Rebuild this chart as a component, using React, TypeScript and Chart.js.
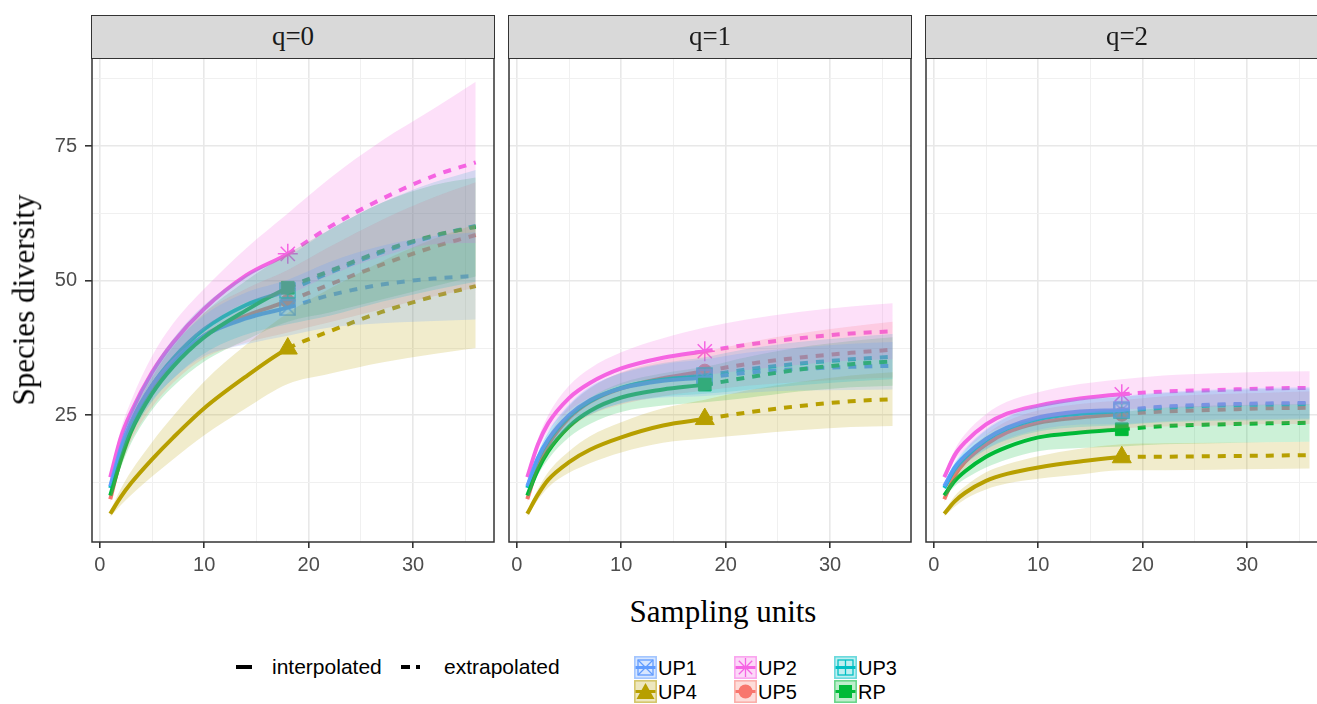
import React, { useEffect, useRef } from 'react';
import { Chart, registerables } from 'chart.js';

Chart.register(...registerables);

// ---------------- data ----------------
// sampling units at which the curves are read (m = 18 is the observed reference sample)
const M = [1, 2, 3, 5, 7, 10, 14, 18, 22, 27, 32, 36];
const OBS_INDEX = 7;

const X_TICKS = [0, 5, 10, 15, 20, 25, 30, 35];
const X_LABELS = [0, 10, 20, 30];
const Y_TICKS = [12.5, 25, 37.5, 50, 62.5, 75, 87.5];
const Y_LABELS = [25, 50, 75];
const X_MIN = -0.75;
const X_MAX = 37.75;
const Y_MIN = 1.45;
const Y_MAX = 91.4;

const PANELS = ['q=0', 'q=1', 'q=2'];
const SERIES = ['UP1', 'UP2', 'UP3', 'UP4', 'UP5', 'RP'];
const COLORS = ['#619CFF', '#F564E3', '#00BFC4', '#B79F00', '#F8766D', '#00BA38'];
const SHAPES = ['boxx', 'star', 'boxplus', 'triangle', 'circle', 'rect'];

// q = 0
const Q0_UP1 = [11.8, 18.8, 23.8, 30.5, 35.0, 39.8, 43.0, 45.0, 47.3, 49.3, 50.4, 50.9];
const Q0_UP1_LO = [11.1, 17.3, 21.8, 27.8, 31.8, 36.0, 38.2, 39.8, 41.3, 42.1, 42.5, 42.8];
const Q0_UP1_HI = [12.5, 20.3, 25.8, 33.2, 38.2, 43.6, 47.8, 50.2, 53.5, 56.5, 58.3, 59.0];
const Q0_UP2 = [13.5, 20.8, 25.6, 33.0, 38.5, 44.8, 51.0, 55.0, 60.0, 65.2, 69.5, 72.0];
const Q0_UP2_LO = [12.8, 19.3, 23.5, 30.0, 35.0, 41.1, 46.0, 47.5, 51.0, 54.5, 56.8, 57.0];
const Q0_UP2_HI = [14.2, 22.3, 27.7, 36.0, 42.0, 48.5, 56.0, 62.5, 69.0, 76.0, 82.0, 87.0];
const Q0_UP3 = [11.5, 18.5, 23.5, 30.5, 35.5, 41.0, 45.5, 48.2, 51.5, 55.3, 58.3, 60.2];
const Q0_UP3_LO = [10.8, 17.0, 21.3, 27.5, 31.8, 36.5, 40.0, 41.9, 43.5, 46.1, 48.3, 49.8];
const Q0_UP3_HI = [12.2, 20.0, 25.7, 33.5, 39.2, 45.5, 51.0, 54.5, 59.5, 64.5, 68.3, 70.6];
const Q0_UP4 = [6.7, 9.8, 12.4, 16.8, 20.8, 26.3, 32.2, 37.4, 40.6, 44.2, 47.1, 49.0];
const Q0_UP4_LO = [6.1, 8.3, 10.2, 13.6, 16.8, 21.3, 26.3, 30.8, 32.7, 34.8, 36.4, 37.5];
const Q0_UP4_HI = [7.3, 11.3, 14.6, 20.0, 24.8, 31.3, 38.1, 44.0, 48.5, 53.6, 57.8, 60.5];
const Q0_UP5 = [9.4, 17.0, 22.5, 29.5, 34.5, 39.8, 43.5, 46.2, 49.3, 53.0, 56.3, 58.5];
const Q0_UP5_LO = [8.7, 15.5, 20.3, 26.5, 31.0, 35.6, 38.5, 40.4, 42.3, 44.7, 47.1, 48.7];
const Q0_UP5_HI = [10.1, 18.5, 24.7, 32.5, 38.0, 44.0, 48.5, 52.0, 56.3, 61.3, 65.5, 68.3];
const Q0_RP = [10.1, 16.6, 22.0, 29.0, 34.0, 39.5, 44.5, 48.7, 51.8, 55.5, 58.4, 60.0];
const Q0_RP_LO = [9.4, 15.2, 19.8, 26.0, 30.3, 35.0, 39.0, 42.4, 44.1, 46.5, 49.0, 50.8];
const Q0_RP_HI = [10.8, 18.0, 24.2, 32.0, 37.7, 44.0, 50.0, 55.0, 59.5, 64.5, 67.8, 69.2];

// q = 1
const Q1_UP1 = [11.8, 17.0, 20.5, 25.0, 27.8, 30.0, 31.4, 32.0, 32.9, 33.6, 34.0, 34.2];
const Q1_UP1_LO = [11.3, 16.0, 19.0, 23.0, 25.3, 27.2, 28.3, 28.6, 29.2, 29.6, 29.7, 29.8];
const Q1_UP1_HI = [12.3, 18.0, 22.0, 27.0, 30.3, 32.8, 34.5, 35.4, 36.6, 37.6, 38.3, 38.6];
const Q1_UP2 = [13.5, 19.5, 23.5, 28.2, 31.0, 33.7, 35.7, 36.9, 38.1, 39.3, 40.2, 40.6];
const Q1_UP2_LO = [13.0, 18.5, 22.0, 25.9, 28.3, 30.7, 32.1, 32.5, 33.4, 34.4, 35.2, 35.4];
const Q1_UP2_HI = [14.0, 20.5, 25.0, 30.5, 33.7, 36.7, 39.3, 41.3, 42.8, 44.2, 45.2, 45.8];
const Q1_UP3 = [11.5, 16.8, 20.3, 24.8, 27.6, 30.1, 31.6, 32.4, 33.5, 34.6, 35.4, 35.9];
const Q1_UP3_LO = [11.0, 15.8, 18.8, 22.8, 25.1, 27.3, 28.5, 29.0, 29.7, 30.6, 31.3, 31.7];
const Q1_UP3_HI = [12.0, 17.8, 21.8, 26.8, 30.1, 32.9, 34.7, 35.8, 37.3, 38.6, 39.5, 40.1];
const Q1_UP4 = [6.7, 10.2, 13.0, 16.3, 18.6, 20.9, 23.1, 24.3, 25.5, 26.7, 27.6, 28.0];
const Q1_UP4_LO = [6.2, 9.2, 11.6, 14.3, 16.1, 18.1, 19.9, 20.7, 21.4, 22.2, 22.8, 23.0];
const Q1_UP4_HI = [7.2, 11.2, 14.4, 18.3, 21.1, 23.7, 26.3, 27.9, 29.6, 31.2, 32.4, 33.0];
const Q1_UP5 = [9.4, 15.5, 19.5, 24.5, 27.5, 30.0, 31.9, 33.2, 34.5, 35.7, 36.6, 37.2];
const Q1_UP5_LO = [8.9, 14.5, 18.0, 22.4, 25.0, 27.0, 28.6, 29.6, 30.5, 31.2, 31.7, 32.0];
const Q1_UP5_HI = [9.9, 16.5, 21.0, 26.6, 30.0, 33.0, 35.2, 36.8, 38.5, 40.2, 41.5, 42.4];
const Q1_RP = [10.1, 14.8, 18.3, 22.9, 25.8, 28.3, 29.8, 30.7, 32.0, 33.5, 34.5, 35.0];
const Q1_RP_LO = [9.6, 13.8, 16.8, 20.9, 23.4, 25.6, 26.8, 27.4, 28.2, 29.4, 30.2, 30.5];
const Q1_RP_HI = [10.6, 15.8, 19.8, 24.9, 28.2, 31.0, 32.8, 34.0, 35.8, 37.6, 38.8, 39.5];

// q = 2
const Q2_UP1 = [11.8, 15.3, 17.5, 20.6, 22.7, 24.6, 25.7, 26.0, 26.6, 27.0, 27.2, 27.3];
const Q2_UP1_LO = [11.3, 14.3, 16.2, 18.8, 20.6, 22.3, 23.3, 23.4, 23.9, 24.2, 24.3, 24.4];
const Q2_UP1_HI = [12.3, 16.3, 18.8, 22.4, 24.8, 26.9, 28.1, 28.6, 29.3, 29.8, 30.1, 30.2];
const Q2_UP2 = [13.5, 17.6, 20.0, 23.3, 25.3, 26.8, 28.1, 28.9, 29.4, 29.7, 30.0, 30.1];
const Q2_UP2_LO = [13.0, 16.6, 18.5, 21.4, 23.1, 24.3, 25.4, 26.1, 26.4, 26.6, 26.9, 27.0];
const Q2_UP2_HI = [14.0, 18.6, 21.5, 25.2, 27.5, 29.3, 30.8, 31.7, 32.4, 32.8, 33.1, 33.2];
const Q2_UP3 = [11.5, 15.0, 17.2, 20.4, 22.5, 24.3, 25.3, 25.8, 26.4, 26.8, 27.0, 27.1];
const Q2_UP3_LO = [11.0, 14.0, 15.9, 18.6, 20.4, 22.0, 22.8, 23.2, 23.7, 24.0, 24.1, 24.2];
const Q2_UP3_HI = [12.0, 16.0, 18.5, 22.2, 24.6, 26.6, 27.8, 28.4, 29.1, 29.6, 29.9, 30.0];
const Q2_UP4 = [6.7, 9.0, 10.6, 12.8, 14.1, 15.3, 16.4, 17.2, 17.3, 17.4, 17.5, 17.6];
const Q2_UP4_LO = [6.2, 8.0, 9.4, 11.2, 12.3, 13.2, 14.0, 14.8, 14.8, 14.9, 15.0, 15.1];
const Q2_UP4_HI = [7.2, 10.0, 11.8, 14.4, 15.9, 17.4, 18.8, 19.6, 19.8, 19.9, 20.0, 20.1];
const Q2_UP5 = [9.4, 13.8, 16.4, 19.6, 21.8, 23.6, 24.6, 25.2, 25.7, 26.0, 26.3, 26.4];
const Q2_UP5_LO = [8.9, 12.8, 15.1, 17.8, 19.7, 21.3, 22.1, 22.6, 22.9, 23.1, 23.4, 23.4];
const Q2_UP5_HI = [9.9, 14.8, 17.7, 21.4, 23.9, 25.9, 27.1, 27.8, 28.5, 28.9, 29.2, 29.4];
const Q2_RP = [10.1, 12.8, 14.6, 17.3, 19.1, 20.9, 21.8, 22.4, 23.0, 23.3, 23.5, 23.6];
const Q2_RP_LO = [9.6, 11.8, 13.2, 15.3, 16.8, 18.3, 18.9, 19.2, 19.6, 19.8, 20.0, 20.1];
const Q2_RP_HI = [10.6, 13.8, 16.0, 19.3, 21.4, 23.5, 24.7, 25.6, 26.4, 26.8, 27.0, 27.1];

type Band = { est: number[]; lo: number[]; hi: number[] };
const PANEL_SERIES: Band[][] = [
  [
    { est: Q0_UP1, lo: Q0_UP1_LO, hi: Q0_UP1_HI },
    { est: Q0_UP2, lo: Q0_UP2_LO, hi: Q0_UP2_HI },
    { est: Q0_UP3, lo: Q0_UP3_LO, hi: Q0_UP3_HI },
    { est: Q0_UP4, lo: Q0_UP4_LO, hi: Q0_UP4_HI },
    { est: Q0_UP5, lo: Q0_UP5_LO, hi: Q0_UP5_HI },
    { est: Q0_RP, lo: Q0_RP_LO, hi: Q0_RP_HI },
  ],
  [
    { est: Q1_UP1, lo: Q1_UP1_LO, hi: Q1_UP1_HI },
    { est: Q1_UP2, lo: Q1_UP2_LO, hi: Q1_UP2_HI },
    { est: Q1_UP3, lo: Q1_UP3_LO, hi: Q1_UP3_HI },
    { est: Q1_UP4, lo: Q1_UP4_LO, hi: Q1_UP4_HI },
    { est: Q1_UP5, lo: Q1_UP5_LO, hi: Q1_UP5_HI },
    { est: Q1_RP, lo: Q1_RP_LO, hi: Q1_RP_HI },
  ],
  [
    { est: Q2_UP1, lo: Q2_UP1_LO, hi: Q2_UP1_HI },
    { est: Q2_UP2, lo: Q2_UP2_LO, hi: Q2_UP2_HI },
    { est: Q2_UP3, lo: Q2_UP3_LO, hi: Q2_UP3_HI },
    { est: Q2_UP4, lo: Q2_UP4_LO, hi: Q2_UP4_HI },
    { est: Q2_UP5, lo: Q2_UP5_LO, hi: Q2_UP5_HI },
    { est: Q2_RP, lo: Q2_RP_LO, hi: Q2_RP_HI },
  ],
];

// ---------------- layout ----------------
const PAGE_W = 1317;
const PAGE_H = 704;
const PANEL_LEFT = [92, 509, 926];
const PANEL_WIDTH = 402;
const PLOT_TOP = 58;
const PLOT_BOTTOM = 542;
const CANVAS_TOP = 28;
const X_AXIS_H = 40;
const FONT_SANS = '"Liberation Sans", Arial, Helvetica, sans-serif';
const FONT_SERIF = '"Liberation Serif", "Times New Roman", Times, serif';
const GRID_MAJOR = '#E8E8E8';
const GRID_MINOR = '#F0F0F0';
const FRAME = '#333333';

function rgba(hex: string, a: number) {
  const n = parseInt(hex.slice(1), 16);
  return `rgba(${(n >> 16) & 255},${(n >> 8) & 255},${n & 255},${a})`;
}

function boxMarker(color: string, kind: 'x' | 'plus', size = 17) {
  const c = document.createElement('canvas');
  c.width = size;
  c.height = size;
  const g = c.getContext('2d')!;
  g.strokeStyle = color;
  g.lineWidth = 1.4;
  const p = 1;
  const s = size - 2;
  g.strokeRect(p, p, s, s);
  g.beginPath();
  if (kind === 'x') {
    g.moveTo(p, p);
    g.lineTo(p + s, p + s);
    g.moveTo(p + s, p);
    g.lineTo(p, p + s);
  } else {
    g.moveTo(size / 2, p);
    g.lineTo(size / 2, p + s);
    g.moveTo(p, size / 2);
    g.lineTo(p + s, size / 2);
  }
  g.stroke();
  return c;
}

const framePlugin = {
  id: 'panelFrame',
  afterDatasetsDraw(chart: any) {
    const { ctx, chartArea: a } = chart;
    ctx.save();
    ctx.strokeStyle = FRAME;
    ctx.lineWidth = 1.5;
    ctx.strokeRect(a.left, a.top, a.right - a.left, a.bottom - a.top);
    ctx.restore();
  },
};

function Panel({ index }: { index: number }) {
  const ref = useRef<HTMLCanvasElement>(null);
  const first = index === 0;
  const padLeft = first ? 0 : 10;
  const canvasLeft = first ? 0 : PANEL_LEFT[index] - padLeft;
  const canvasW = PANEL_LEFT[index] + PANEL_WIDTH + 6 - canvasLeft;
  const canvasH = PLOT_BOTTOM + X_AXIS_H - CANVAS_TOP;

  useEffect(() => {
    if (!ref.current) return;
    const pts = (arr: number[]) => M.map((m, i) => ({ x: m, y: arr[i] }));
    const datasets: any[] = [];
    const series = PANEL_SERIES[index];
    // confidence bands (drawn on top, as ggplot ribbons)
    series.forEach((s, k) => {
      datasets.push({
        data: pts(s.hi),
        fill: '+1',
        backgroundColor: rgba(COLORS[k], 0.2),
        borderColor: 'rgba(0,0,0,0)',
        borderWidth: 0,
        pointRadius: 0,
        cubicInterpolationMode: 'monotone',
        order: 0,
      });
      datasets.push({
        data: pts(s.lo),
        fill: false,
        borderColor: 'rgba(0,0,0,0)',
        borderWidth: 0,
        pointRadius: 0,
        cubicInterpolationMode: 'monotone',
        order: 0,
      });
    });
    // curves and reference-sample markers
    const order = [5, 0, 1, 2, 3, 4];
    order.forEach((k) => {
      const s = series[k];
      const color = COLORS[k];
      datasets.push({
        data: pts(s.est),
        borderColor: color,
        borderWidth: 4,
        pointRadius: 0,
        fill: false,
        cubicInterpolationMode: 'monotone',
        segment: {
          borderDash: (ctx: any) => (ctx.p0DataIndex >= OBS_INDEX ? [8, 8] : undefined),
        },
        order: 1,
      });
      const shape = SHAPES[k];
      let pointStyle: any = shape;
      let radius = 8;
      let bw = 1;
      if (shape === 'boxx') pointStyle = boxMarker(color, 'x');
      if (shape === 'boxplus') pointStyle = boxMarker(color, 'plus');
      if (shape === 'star') { radius = 10; bw = 1.5; }
      if (shape === 'triangle') radius = 11;
      if (shape === 'circle') radius = 7;
      if (shape === 'rect') radius = 9;
      datasets.push({
        data: [{ x: M[OBS_INDEX], y: s.est[OBS_INDEX] }],
        showLine: false,
        pointStyle,
        pointRadius: radius,
        pointBackgroundColor: color,
        pointBorderColor: color,
        pointBorderWidth: bw,
        order: 1,
      });
    });

    const isMajorX = (v: number) => X_LABELS.includes(v);
    const isMajorY = (v: number) => Y_LABELS.includes(v);

    const chart = new Chart(ref.current, {
      type: 'line',
      data: { datasets },
      plugins: [framePlugin],
      options: {
        responsive: false,
        animation: false,
        events: [],
        layout: { autoPadding: false, padding: { top: PLOT_TOP - CANVAS_TOP, left: padLeft, right: 6, bottom: 0 } },
        plugins: {
          legend: { display: false },
          tooltip: { enabled: false },
          filler: { drawTime: 'beforeDatasetDraw', propagate: false },
        },
        scales: {
          x: {
            type: 'linear',
            min: X_MIN,
            max: X_MAX,
            afterBuildTicks: (sc: any) => {
              sc.ticks = X_TICKS.map((v) => ({ value: v }));
            },
            afterFit: (sc: any) => {
              sc.height = X_AXIS_H;
            },
            ticks: {
              autoSkip: false,
              maxRotation: 0,
              padding: 5,
              color: '#4D4D4D',
              font: { family: FONT_SANS, size: 20 },
              callback: (v: any) => (isMajorX(Number(v)) ? String(v) : ''),
            },
            grid: {
              color: (c: any) => (isMajorX(c.tick.value) ? GRID_MAJOR : GRID_MINOR),
              lineWidth: (c: any) => (isMajorX(c.tick.value) ? 1.6 : 1),
              tickColor: (c: any) => (isMajorX(c.tick.value) ? FRAME : 'rgba(0,0,0,0)'),
              tickLength: 6,
              drawTicks: true,
            },
            border: { display: false },
          },
          y: {
            type: 'linear',
            min: Y_MIN,
            max: Y_MAX,
            afterBuildTicks: (sc: any) => {
              sc.ticks = Y_TICKS.map((v) => ({ value: v }));
            },
            afterFit: (sc: any) => {
              sc.width = first ? PANEL_LEFT[0] : 0;
            },
            ticks: {
              display: first,
              autoSkip: false,
              padding: 8,
              color: '#4D4D4D',
              font: { family: FONT_SANS, size: 20 },
              callback: (v: any) => (isMajorY(Number(v)) ? String(v) : ''),
            },
            grid: {
              color: (c: any) => (isMajorY(c.tick.value) ? GRID_MAJOR : GRID_MINOR),
              lineWidth: (c: any) => (isMajorY(c.tick.value) ? 1.6 : 1),
              tickColor: (c: any) => (isMajorY(c.tick.value) ? FRAME : 'rgba(0,0,0,0)'),
              tickLength: 7,
              drawTicks: first,
            },
            border: { display: false },
          },
        },
      } as any,
    });
    return () => chart.destroy();
  }, [index]);

  return (
    <canvas
      ref={ref}
      width={canvasW}
      height={canvasH}
      style={{ position: 'absolute', left: canvasLeft, top: CANVAS_TOP, width: canvasW, height: canvasH }}
    />
  );
}

function KeyIcon({ k }: { k: number }) {
  const c = COLORS[k];
  const shape = SHAPES[k];
  let mark: any = null;
  if (shape === 'boxx')
    mark = (
      <g fill="none" stroke={c} strokeWidth={1.3}>
        <rect x={4} y={4} width={15} height={15} />
        <line x1={4} y1={4} x2={19} y2={19} />
        <line x1={19} y1={4} x2={4} y2={19} />
      </g>
    );
  if (shape === 'star')
    mark = (
      <g stroke={c} strokeWidth={1.3}>
        <line x1={11.5} y1={2} x2={11.5} y2={21} />
        <line x1={2} y1={11.5} x2={21} y2={11.5} />
        <line x1={4.8} y1={4.8} x2={18.2} y2={18.2} />
        <line x1={18.2} y1={4.8} x2={4.8} y2={18.2} />
      </g>
    );
  if (shape === 'boxplus')
    mark = (
      <g fill="none" stroke={c} strokeWidth={1.3}>
        <rect x={4} y={4} width={15} height={15} />
        <line x1={11.5} y1={4} x2={11.5} y2={19} />
        <line x1={4} y1={11.5} x2={19} y2={11.5} />
      </g>
    );
  if (shape === 'triangle') mark = <polygon points="11.5,3 20.5,19 2.5,19" fill={c} />;
  if (shape === 'circle') mark = <circle cx={11.5} cy={11.5} r={7} fill={c} />;
  if (shape === 'rect') mark = <rect x={5} y={5} width={13} height={13} fill={c} />;
  return (
    <svg width={23} height={23} style={{ display: 'block' }}>
      <rect x={0.75} y={0.75} width={21.5} height={21.5} fill={rgba(c, 0.25)} stroke={rgba(c, 0.55)} strokeWidth={1.5} />
      <line x1={1.5} y1={11.5} x2={21.5} y2={11.5} stroke={c} strokeWidth={3} />
      {mark}
    </svg>
  );
}

const LEGEND_COLS = [634, 734, 834];
const LEGEND_ROWS = [656, 680];

export default function App() {
  return (
    <div
      style={{
        position: 'absolute',
        left: 0,
        top: 0,
        width: PAGE_W,
        height: PAGE_H,
        overflow: 'hidden',
        background: '#ffffff',
      }}
    >
      {PANELS.map((p, i) => (
        <Panel key={'panel' + i} index={i} />
      ))}
      {PANELS.map((p, i) => (
        <div
          key={'strip' + i}
          style={{
            position: 'absolute',
            left: PANEL_LEFT[i] - 0.75,
            top: 14.5,
            width: PANEL_WIDTH + 1.5,
            height: PLOT_TOP - 14.5 + 0.75,
            boxSizing: 'border-box',
            border: `1.5px solid ${FRAME}`,
            background: '#D9D9D9',
            display: 'flex',
            alignItems: 'center',
            justifyContent: 'center',
            fontFamily: FONT_SERIF,
            fontSize: 27,
            color: '#1A1A1A',
            lineHeight: 1,
          }}
        >
          {p}
        </div>
      ))}
      <div
        style={{
          position: 'absolute',
          left: 24,
          top: 300,
          transform: 'translate(-50%, -50%) rotate(-90deg)',
          whiteSpace: 'nowrap',
          fontFamily: FONT_SERIF,
          fontSize: 31,
          color: '#000',
          lineHeight: 1.15,
        }}
      >
        Species diversity
      </div>
      <div
        style={{
          position: 'absolute',
          left: 723,
          top: 612,
          transform: 'translate(-50%, -50%)',
          whiteSpace: 'nowrap',
          fontFamily: FONT_SERIF,
          fontSize: 31,
          color: '#000',
          lineHeight: 1.15,
        }}
      >
        Sampling units
      </div>
      {/* line-type legend */}
      <div style={{ position: 'absolute', left: 236, top: 665, width: 16, height: 4, background: '#000' }} />
      <div
        style={{ position: 'absolute', left: 272, top: 667, transform: 'translateY(-50%)', fontFamily: FONT_SANS, fontSize: 21, color: '#000', whiteSpace: 'nowrap', lineHeight: 1.1 }}
      >
        interpolated
      </div>
      <div style={{ position: 'absolute', left: 401, top: 665, width: 9, height: 4, background: '#000' }} />
      <div style={{ position: 'absolute', left: 416, top: 665, width: 4, height: 4, background: '#000' }} />
      <div
        style={{ position: 'absolute', left: 444, top: 667, transform: 'translateY(-50%)', fontFamily: FONT_SANS, fontSize: 21, color: '#000', whiteSpace: 'nowrap', lineHeight: 1.1 }}
      >
        extrapolated
      </div>
      {/* series legend */}
      {SERIES.map((name, k) => {
        const col = k % 3;
        const row = Math.floor(k / 3);
        return (
          <div key={'leg' + k}>
            <div style={{ position: 'absolute', left: LEGEND_COLS[col], top: LEGEND_ROWS[row] }}>
              <KeyIcon k={k} />
            </div>
            <div
              style={{
                position: 'absolute',
                left: LEGEND_COLS[col] + 24,
                top: LEGEND_ROWS[row] + 11.5,
                transform: 'translateY(-50%)',
                fontFamily: FONT_SANS,
                fontSize: 20,
                color: '#000',
                whiteSpace: 'nowrap',
                lineHeight: 1.1,
              }}
            >
              {name}
            </div>
          </div>
        );
      })}
    </div>
  );
}
